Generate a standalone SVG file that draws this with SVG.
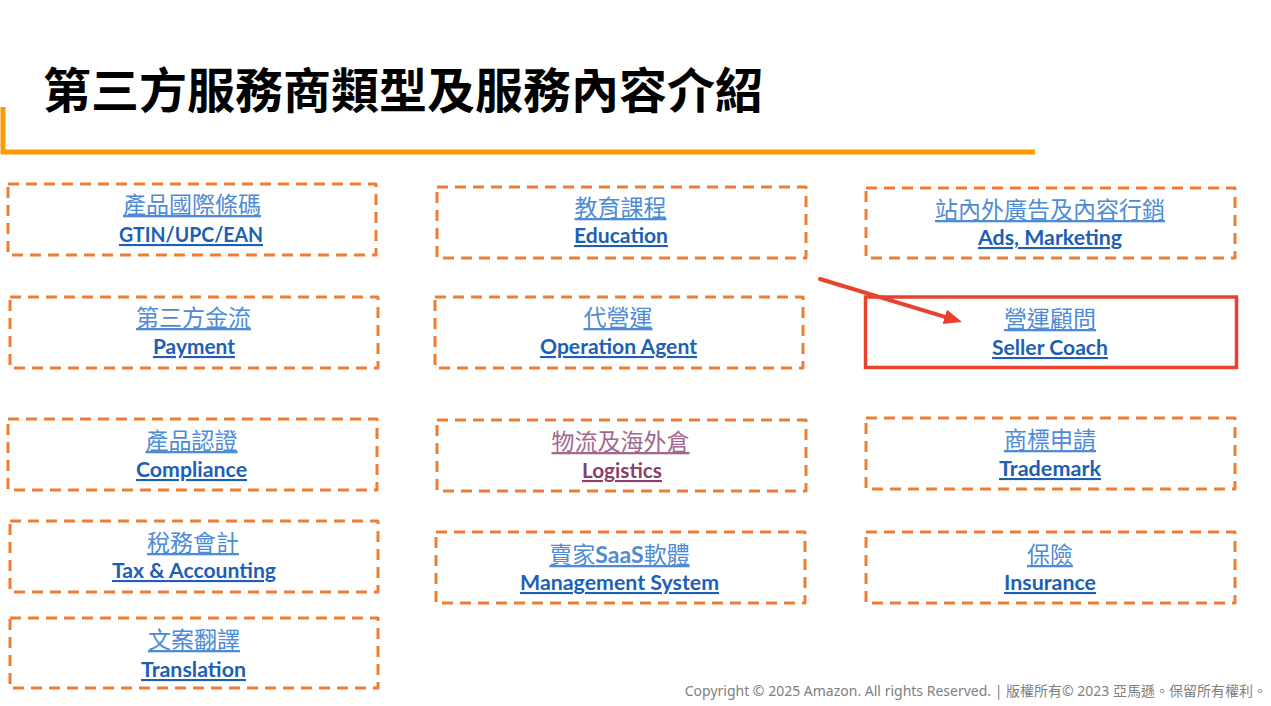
<svg xmlns="http://www.w3.org/2000/svg" width="1271" height="706" viewBox="0 0 1271 706">
<style>
  .box { fill: none; stroke: #ED7D31; stroke-width: 3; stroke-dasharray: 11 7; stroke-linejoin: round; }
  .hl { fill: none; stroke: #E8412E; stroke-width: 3.5; }
  .zh { font-family: "Noto Sans CJK TC", "Noto Sans CJK SC", sans-serif; font-size: 23px; fill: #4E8BD6; text-anchor: middle; text-decoration: underline; }
  .en { font-family: Lato, "Open Sans", "Liberation Sans", sans-serif; font-weight: 700; font-size: 21px; fill: #1D5FB5; text-anchor: middle; text-decoration: underline; }
  .zh.p { fill: #A1678E; }
  .en.p { fill: #8C3F6B; }
  .title { font-family: "Noto Sans CJK TC", "Noto Sans CJK SC", sans-serif; font-weight: 700; font-size: 48px; fill: #000; }
  .foot { font-family: "Noto Sans", "Noto Sans CJK TC", sans-serif; font-size: 14px; fill: #808080; text-anchor: end; }
</style>
<defs>
  <marker id="ah" markerUnits="userSpaceOnUse" markerWidth="20" markerHeight="16" refX="8" refY="7.5" orient="auto">
    <path d="M0,0 L18,7.5 L0,15 z" fill="#E8412E"/>
  </marker>
</defs>
<rect width="1271" height="706" fill="#fff"/>

<g id="header">
  <text class="title" x="43" y="108">第三方服務商類型及服務內容介紹</text>
  <path d="M3,107 V152 H1035" fill="none" stroke="#FF9900" stroke-width="5"/>
</g>

<g id="n-gtin">
  <rect class="box" x="8" y="184" width="368" height="71"/>
  <text class="zh" x="192" y="213">產品國際條碼</text>
  <text class="en" x="191" y="242" textLength="144" lengthAdjust="spacingAndGlyphs">GTIN/UPC/EAN</text>
</g>
<g id="n-payment">
  <rect class="box" x="10" y="297" width="368" height="71"/>
  <text class="zh" x="193.5" y="326">第三方金流</text>
  <text class="en" x="194" y="354" textLength="82" lengthAdjust="spacingAndGlyphs">Payment</text>
</g>
<g id="n-compliance">
  <rect class="box" x="8" y="419" width="369" height="71"/>
  <text class="zh" x="191.5" y="449">產品認證</text>
  <text class="en" x="191.5" y="477" textLength="111" lengthAdjust="spacingAndGlyphs">Compliance</text>
</g>
<g id="n-tax">
  <rect class="box" x="10" y="521" width="368" height="71"/>
  <text class="zh" x="193" y="551">稅務會計</text>
  <text class="en" x="194" y="578" textLength="164" lengthAdjust="spacingAndGlyphs">Tax &amp; Accounting</text>
</g>
<g id="n-translation">
  <rect class="box" x="10" y="618" width="368" height="70"/>
  <text class="zh" x="194" y="648">文案翻譯</text>
  <text class="en" x="193.5" y="677" textLength="105" lengthAdjust="spacingAndGlyphs">Translation</text>
</g>

<g id="n-education">
  <rect class="box" x="437" y="187" width="369" height="71"/>
  <text class="zh" x="620.5" y="216">教育課程</text>
  <text class="en" x="621" y="243" textLength="94" lengthAdjust="spacingAndGlyphs">Education</text>
</g>
<g id="n-operation">
  <rect class="box" x="435" y="297" width="368" height="71"/>
  <text class="zh" x="618" y="326">代營運</text>
  <text class="en" x="618.5" y="354" textLength="157" lengthAdjust="spacingAndGlyphs">Operation Agent</text>
</g>
<g id="n-logistics">
  <rect class="box" x="437" y="420" width="369" height="71"/>
  <text class="zh p" x="620.5" y="450">物流及海外倉</text>
  <text class="en p" x="622" y="478" textLength="80" lengthAdjust="spacingAndGlyphs">Logistics</text>
</g>
<g id="n-saas">
  <rect class="box" x="436" y="532" width="369" height="71"/>
  <text class="zh" x="619.5" y="563">賣家<tspan font-family="Lato, Open Sans, sans-serif" font-weight="700">SaaS</tspan>軟體</text>
  <text class="en" x="619.5" y="590" textLength="199" lengthAdjust="spacingAndGlyphs">Management System</text>
</g>

<g id="n-ads">
  <rect class="box" x="866" y="188" width="369" height="70"/>
  <text class="zh" x="1050" y="218">站內外廣告及內容行銷</text>
  <text class="en" x="1050" y="245" textLength="144" lengthAdjust="spacingAndGlyphs">Ads, Marketing</text>
</g>
<g id="n-sellercoach">
  <rect class="hl" x="865.5" y="297" width="371" height="70.5"/>
  <text class="zh" x="1050" y="327">營運顧問</text>
  <text class="en" x="1050" y="355" textLength="116" lengthAdjust="spacingAndGlyphs">Seller Coach</text>
</g>
<g id="n-trademark">
  <rect class="box" x="866" y="418" width="369" height="71"/>
  <text class="zh" x="1050" y="448">商標申請</text>
  <text class="en" x="1050" y="476" textLength="102" lengthAdjust="spacingAndGlyphs">Trademark</text>
</g>
<g id="n-insurance">
  <rect class="box" x="866" y="532" width="369" height="71"/>
  <text class="zh" x="1050" y="563">保險</text>
  <text class="en" x="1050" y="590" textLength="92" lengthAdjust="spacingAndGlyphs">Insurance</text>
</g>

<g id="connectors">
  <line x1="820" y1="279" x2="952.4" y2="319.1" stroke="#E8412E" stroke-width="4" stroke-linecap="round" marker-end="url(#ah)"/>
</g>

<g id="footer">
  <text class="foot" x="1267" y="696">Copyright © 2025 Amazon. All rights Reserved. | 版權所有© 2023 亞馬遜。保留所有權利。</text>
</g>
</svg>
